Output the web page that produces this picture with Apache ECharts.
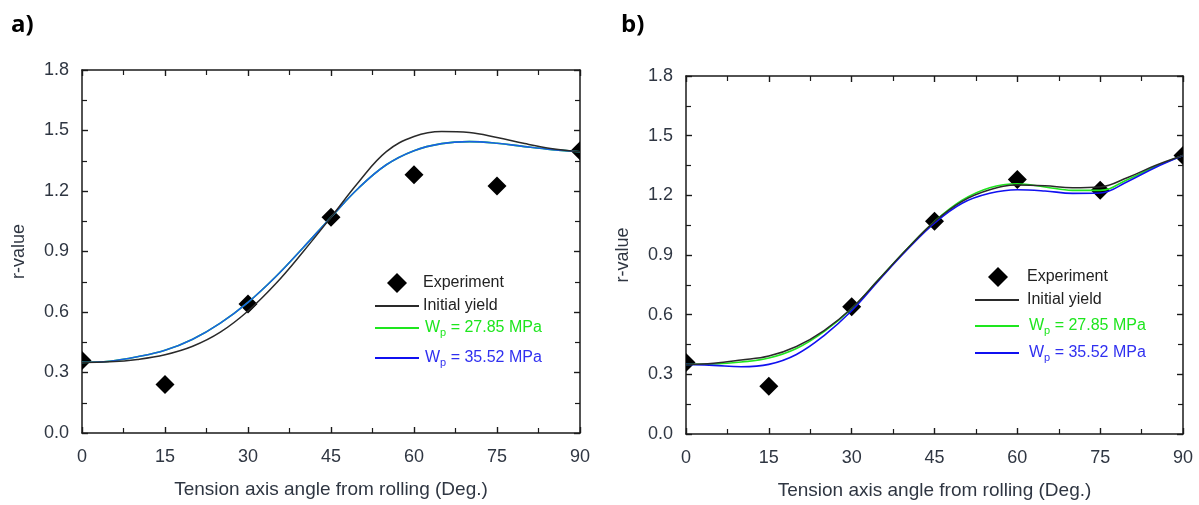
<!DOCTYPE html>
<html>
<head>
<meta charset="utf-8">
<title>r-value vs tension axis angle</title>
<script src="https://cdn.jsdelivr.net/npm/echarts@6/dist/echarts.min.js"></script>
<style>
  html, body { margin: 0; padding: 0; background: #fff; }
  #chart { width: 1199px; height: 505px; }
</style>
</head>
<body>
<div id="chart"></div>
<script>
// Measured r-values at the test angles (same specimen set in both panels)
const testAngles = [0, 15, 30, 45, 60, 75, 90];
const experiment = [0.36, 0.24, 0.64, 1.07, 1.28, 1.225, 1.40];

// Angles at which the model predictions are sampled
const curveAngles = [0, 5, 10, 15, 20, 25, 30, 35, 40, 45, 50, 55, 60, 65, 70, 75, 80, 85, 90];

// Panel a) predictions
const initialYieldA = [0.350, 0.353, 0.365, 0.388, 0.430, 0.500, 0.605, 0.740, 0.900, 1.070, 1.245, 1.395, 1.470, 1.495, 1.490, 1.465, 1.435, 1.410, 1.395];
const wp2785A = [0.350, 0.356, 0.378, 0.410, 0.465, 0.545, 0.648, 0.775, 0.920, 1.070, 1.215, 1.330, 1.400, 1.435, 1.445, 1.437, 1.420, 1.405, 1.395];
const wp3552A = [0.350, 0.356, 0.378, 0.410, 0.465, 0.545, 0.648, 0.775, 0.920, 1.070, 1.215, 1.330, 1.400, 1.435, 1.445, 1.437, 1.420, 1.405, 1.395];

// Panel b) predictions
const initialYieldB = [0.350, 0.356, 0.372, 0.392, 0.440, 0.520, 0.632, 0.780, 0.930, 1.068, 1.170, 1.228, 1.252, 1.248, 1.238, 1.242, 1.290, 1.350, 1.400];
const wp2785B = [0.350, 0.352, 0.362, 0.382, 0.430, 0.515, 0.630, 0.780, 0.930, 1.068, 1.175, 1.238, 1.258, 1.242, 1.225, 1.225, 1.280, 1.345, 1.400];
const wp3552B = [0.350, 0.345, 0.338, 0.350, 0.400, 0.495, 0.620, 0.775, 0.925, 1.060, 1.160, 1.210, 1.228, 1.222, 1.210, 1.212, 1.270, 1.340, 1.400];

// Axis settings
const xMin = 0, xMax = 90, xStep = 15;
const yMin = 0, yMax = 1.8, yStep = 0.3;
const xTitle = 'Tension axis angle from rolling (Deg.)';
const yTitle = 'r-value';

const NAME_EXP = 'Experiment';
const NAME_INIT = 'Initial yield';
const NAME_WP1 = 'Wp = 27.85 MPa';
const NAME_WP2 = 'Wp = 35.52 MPa';

const GREEN = '#1ee61e';
const BLUE = '#1010f0';
const BLACK = '#1a1a1a';
const FONT = '"Liberation Sans", Arial, sans-serif';

const panels = [
  {
    label: 'a)', labelLeft: 6,
    grid: { left: 82, top: 70, width: 498, height: 363 },
    initial: initialYieldA, wp1: wp2785A, wp2: wp3552A,
    legend: { lineLeft: 370, textLeft: 423, diamondX: 392, ys: [278, 302, 326, 356] }
  },
  {
    label: 'b)', labelLeft: 616,
    grid: { left: 686, top: 76, width: 497, height: 365 },
    initial: initialYieldB, wp1: wp2785B, wp2: wp3552B,
    legend: { lineLeft: 970, textLeft: 1027, diamondX: 993, ys: [272, 296, 324, 351] }
  }
];

const axisLine = { show: true, onZero: false, lineStyle: { color: BLACK, width: 1.5 } };
const majorTick = { show: true, inside: true, length: 6, lineStyle: { color: BLACK, width: 1.4 } };
const minorTick = { show: true, splitNumber: 2, length: 5, lineStyle: { color: BLACK, width: 1.2 } };
const tickLabelStyle = { color: '#2f3642', fontSize: 18, fontFamily: FONT };

const grids = [], xAxes = [], yAxes = [], series = [], legends = [], titles = [];

function pairs(xs, ys) { return xs.map((x, i) => [x, ys[i]]); }

function subscriptLabel(color) {
  return {
    color: color, fontSize: 16, fontFamily: FONT,
    rich: {
      m: { color: color, fontSize: 16, fontFamily: FONT },
      s: { color: color, fontSize: 11, fontFamily: FONT, padding: [9, 0, 0, 0] }
    }
  };
}

function wpFormatter(name) {
  const rest = name.slice(2);
  return '{m|W}{s|p}{m|' + rest + '}';
}

function clamp(v, lo, hi) { return Math.max(lo, Math.min(hi, v)); }

// legend icon: a plain horizontal stroke
const LINE_ICON = 'rect';

panels.forEach((p, k) => {
  grids.push(Object.assign({ containLabel: false }, p.grid));

  // bottom + top x axes
  xAxes.push({
    type: 'value', gridIndex: k, position: 'bottom', min: xMin, max: xMax, interval: xStep,
    axisLine: axisLine, axisTick: majorTick, minorTick: minorTick, splitLine: { show: false },
    axisLabel: Object.assign({ margin: 15, formatter: v => String(v) }, tickLabelStyle),
    name: xTitle, nameLocation: 'middle', nameGap: 47,
    nameTextStyle: { color: '#2f3642', fontSize: 19, fontFamily: FONT }
  });
  xAxes.push({
    type: 'value', gridIndex: k, position: 'top', min: xMin, max: xMax, interval: xStep,
    axisLine: axisLine, axisTick: majorTick, minorTick: minorTick, splitLine: { show: false },
    axisLabel: { show: false }
  });
  // left + right y axes
  yAxes.push({
    type: 'value', gridIndex: k, position: 'left', min: yMin, max: yMax, interval: yStep,
    axisLine: axisLine, axisTick: majorTick, minorTick: minorTick, splitLine: { show: false },
    axisLabel: Object.assign({ margin: 13, formatter: v => v.toFixed(1) }, tickLabelStyle),
    name: yTitle, nameLocation: 'middle', nameGap: 54, nameRotate: 90,
    nameTextStyle: { color: '#2f3642', fontSize: 18, fontFamily: FONT }
  });
  yAxes.push({
    type: 'value', gridIndex: k, position: 'right', min: yMin, max: yMax, interval: yStep,
    axisLine: axisLine, axisTick: majorTick, minorTick: minorTick, splitLine: { show: false },
    axisLabel: { show: false }
  });

  const xi = 2 * k, yi = 2 * k;
  const g = p.grid;

  // measured points as diamonds, trimmed at the plot frame
  series.push({
    type: 'custom', name: NAME_EXP, xAxisIndex: xi, yAxisIndex: yi, z: 1,
    itemStyle: { color: '#000' },
    data: pairs(testAngles, experiment),
    renderItem: (params, api) => {
      const c = api.coord([api.value(0), api.value(1)]);
      const h = 9.5;
      const x0 = g.left, x1 = g.left + g.width, y0 = g.top, y1 = g.top + g.height;
      const pts = [[c[0], c[1] - h], [c[0] + h, c[1]], [c[0], c[1] + h], [c[0] - h, c[1]]]
        .map(q => [clamp(q[0], x0, x1), clamp(q[1], y0, y1)]);
      return { type: 'polygon', shape: { points: pts }, style: { fill: '#000' } };
    }
  });

  const lineCommon = { type: 'line', xAxisIndex: xi, yAxisIndex: yi, symbol: 'none', smooth: 0.4, z: 3 };
  series.push(Object.assign({}, lineCommon, {
    name: NAME_WP1, data: pairs(curveAngles, p.wp1),
    itemStyle: { color: GREEN }, lineStyle: { color: GREEN, width: 1.6 }
  }));
  series.push(Object.assign({}, lineCommon, {
    name: NAME_WP2, data: pairs(curveAngles, p.wp2),
    itemStyle: { color: k === 0 ? '#1a5fe6' : BLUE }, lineStyle: { color: k === 0 ? '#1a5fe6' : BLUE, width: 1.6 }
  }));
  series.push(Object.assign({}, lineCommon, {
    name: NAME_INIT, data: pairs(curveAngles, p.initial),
    itemStyle: { color: BLACK }, lineStyle: { color: '#2a2a2a', width: 1.5 }
  }));

  // legend entries, one component per row
  const L = p.legend;
  legends.push({
    left: L.diamondX - 10, top: L.ys[0] - 10, orient: 'vertical', selectedMode: false,
    itemWidth: 20, itemHeight: 20, data: [{ name: NAME_EXP, icon: 'diamond' }],
    itemStyle: { color: '#000' },
    textStyle: { color: '#222', fontSize: 16, fontFamily: FONT, padding: [0, 0, 0, L.textLeft - L.diamondX - 20] }
  });
  legends.push({
    left: L.lineLeft, top: L.ys[1] - 9, orient: 'vertical', selectedMode: false,
    itemWidth: 44, itemHeight: 2, data: [{ name: NAME_INIT, icon: LINE_ICON }],
    itemStyle: { color: '#2a2a2a' },
    textStyle: { color: '#222', fontSize: 16, fontFamily: FONT, padding: [0, 0, 0, L.textLeft - L.lineLeft - 54] }
  });
  legends.push({
    left: L.lineLeft, top: L.ys[2] - 11, orient: 'vertical', selectedMode: false,
    itemWidth: 44, itemHeight: 2, data: [{ name: NAME_WP1, icon: LINE_ICON }], formatter: wpFormatter,
    itemStyle: { color: GREEN },
    textStyle: Object.assign(subscriptLabel(GREEN), { padding: [0, 0, 0, L.textLeft - L.lineLeft - 52] })
  });
  legends.push({
    left: L.lineLeft, top: L.ys[3] - 11, orient: 'vertical', selectedMode: false,
    itemWidth: 44, itemHeight: 2, data: [{ name: NAME_WP2, icon: LINE_ICON }], formatter: wpFormatter,
    itemStyle: { color: BLUE },
    textStyle: Object.assign(subscriptLabel('#3030f0'), { padding: [0, 0, 0, L.textLeft - L.lineLeft - 52] })
  });

  titles.push({
    text: p.label, left: p.labelLeft, top: 8,
    textStyle: { color: '#000', fontSize: 24, fontWeight: 'bold', fontFamily: '"Open Sans", Lato, sans-serif' }
  });
});

const chart = echarts.init(document.getElementById('chart'), null, { renderer: 'canvas' });
chart.setOption({
  backgroundColor: '#ffffff',
  animation: false,
  title: titles,
  grid: grids,
  xAxis: xAxes,
  yAxis: yAxes,
  legend: legends,
  series: series
});
</script>
</body>
</html>
